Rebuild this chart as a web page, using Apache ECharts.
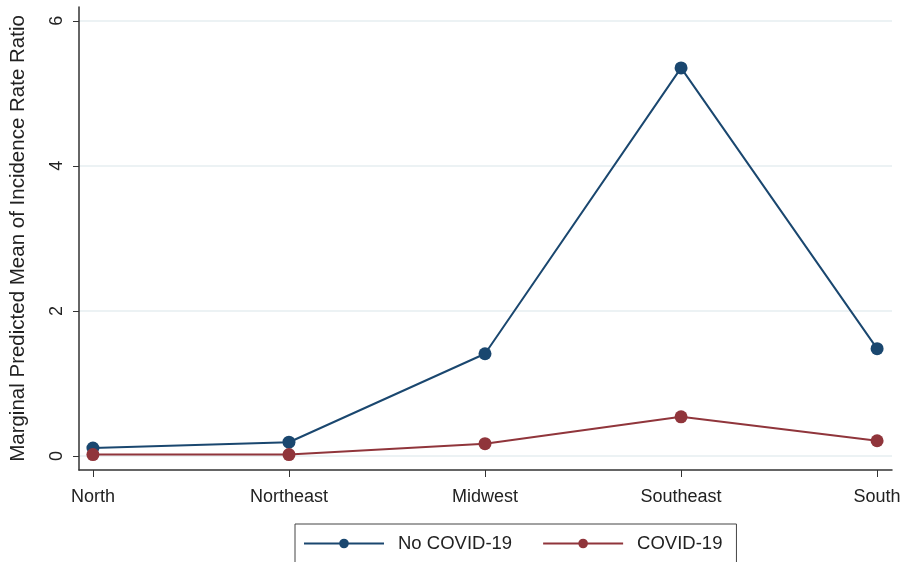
<!DOCTYPE html>
<html>
<head>
<meta charset="utf-8">
<script src="https://cdn.jsdelivr.net/npm/echarts@6/dist/echarts.min.js"></script>
<style>
  html, body { margin: 0; padding: 0; background: #fff; }
  #chart { width: 909px; height: 562px; }
</style>
</head>
<body>
<div id="chart"></div>
<script>
var regions = ['North', 'Northeast', 'Midwest', 'Southeast', 'South'];
var noCovid = [0.11, 0.19, 1.41, 5.35, 1.48];
var covid = [0.02, 0.02, 0.17, 0.54, 0.21];
var yTicks = [0, 2, 4, 6];

function toPoints(values) {
    var pts = [];
    for (var i = 0; i < values.length; i++) {
        pts.push([i, values[i]]);
    }
    return pts;
}

var font = 'Liberation Sans';
var chart = echarts.init(document.getElementById('chart'));

chart.setOption({
    backgroundColor: '#fff',
    animation: false,
    grid: { left: 76, right: 17, top: 7, bottom: 92 },
    legend: {
        top: 524,
        left: 295,
        itemWidth: 80,
        itemHeight: 12,
        itemGap: 30,
        padding: [10, 14, 30, 8],
        borderColor: '#444',
        borderWidth: 1,
        textStyle: { fontFamily: font, fontSize: 18.5, color: '#222', padding: [0, 0, 0, 9] },
        data: ['No COVID-19', 'COVID-19']
    },
    xAxis: {
        type: 'value',
        min: -0.071,
        max: 4.076,
        axisLine: { onZero: false, lineStyle: { color: '#333', width: 1.5 } },
        axisTick: { show: true, length: 7, customValues: [0, 1, 2, 3, 4], lineStyle: { color: '#333' } },
        axisLabel: {
            customValues: [0, 1, 2, 3, 4],
            fontFamily: font, fontSize: 18, color: '#222', margin: 18,
            formatter: function (v) { return regions[Math.round(v)]; }
        },
        splitLine: { show: false }
    },
    yAxis: {
        type: 'value',
        min: -0.193,
        max: 6.19,
        name: 'Marginal Predicted Mean of Incidence Rate Ratio',
        nameLocation: 'middle',
        nameGap: 50,
        nameTextStyle: { fontFamily: font, fontSize: 20.5, color: '#222' },
        axisLine: { show: true, onZero: false, lineStyle: { color: '#333', width: 1.5 } },
        axisTick: { show: true, length: 6, customValues: yTicks, lineStyle: { color: '#333' } },
        axisLabel: {
            customValues: yTicks,
            rotate: 90,
            fontFamily: font, fontSize: 18, color: '#222', margin: 13
        },
        splitLine: { show: true, lineStyle: { color: '#e6eef0', width: 1.5 } }
    },
    series: [
        {
            name: 'No COVID-19',
            type: 'line',
            data: toPoints(noCovid),
            symbol: 'circle',
            symbolSize: 13,
            lineStyle: { color: '#1a476f', width: 2 },
            itemStyle: { color: '#1a476f' }
        },
        {
            name: 'COVID-19',
            type: 'line',
            data: toPoints(covid),
            symbol: 'circle',
            symbolSize: 13,
            lineStyle: { color: '#90353b', width: 2 },
            itemStyle: { color: '#90353b' }
        }
    ]
});
</script>
</body>
</html>
